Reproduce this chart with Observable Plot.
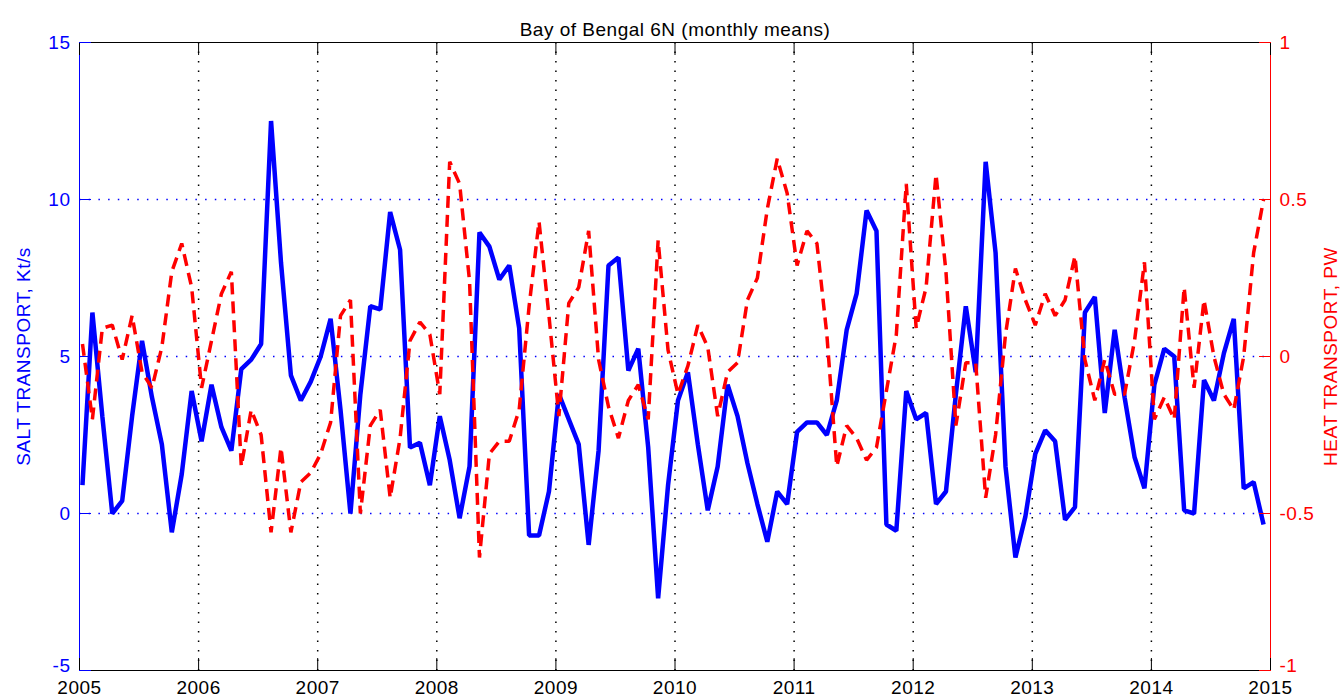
<!DOCTYPE html>
<html>
<head>
<meta charset="utf-8">
<script src="https://cdn.jsdelivr.net/npm/d3@7"></script>
<script src="https://cdn.jsdelivr.net/npm/@observablehq/plot@0.6"></script>
<style>
  html, body { margin: 0; padding: 0; background: #fff; overflow: hidden; }
</style>
</head>
<body>
<div id="chart"></div>
<script>
const title = "Bay of Bengal 6N (monthly means)";
const leftLabel = "SALT TRANSPORT, Kt/s";
const rightLabel = "HEAT TRANSPORT, PW";
const years = [2005, 2006, 2007, 2008, 2009, 2010, 2011, 2012, 2013, 2014, 2015];
const gridYears = [2006, 2007, 2008, 2009, 2010, 2011, 2012, 2013, 2014];
const saltTicks = [-5, 0, 5, 10, 15];
const saltGrid = [0, 5, 10];
const heatTicks = [-1, -0.5, 0, 0.5, 1];

// Salt transport (Kt/s), monthly, Jan 2005 .. Dec 2014
const salt = [
  0.9, 6.4, 3.1, 0.0, 0.4, 3.1, 5.5, 3.7, 2.2, -0.6, 1.25, 3.9,
  2.3, 4.1, 2.75, 2.0, 4.6, 4.9, 5.4, 12.5, 8.0, 4.4, 3.6, 4.2,
  5.0, 6.2, 3.3, 0.0, 3.8, 6.6, 6.5, 9.6, 8.4, 2.1, 2.25, 0.9,
  3.1, 1.7, -0.15, 1.5, 8.95, 8.5, 7.45, 7.9, 5.9, -0.7, -0.7, 0.7,
  3.8, 3.0, 2.2, -1.0, 2.0, 7.9, 8.15, 4.55, 5.25, 2.1, -2.7, 0.9,
  3.6, 4.5, 2.2, 0.1, 1.5, 4.1, 3.1, 1.6, 0.3, -0.9, 0.7, 0.3,
  2.6, 2.9, 2.9, 2.5, 3.6, 5.85, 7.0, 9.65, 9.0, -0.35, -0.55, 3.9,
  3.0, 3.2, 0.3, 0.7, 3.8, 6.6, 4.5, 11.2, 8.3, 1.5, -1.4, -0.1,
  1.9, 2.65, 2.3, -0.2, 0.2, 6.4, 6.9, 3.2, 5.85, 3.7, 1.8, 0.8,
  4.1, 5.25, 5.0, 0.1, 0.0, 4.25, 3.6, 5.1, 6.2, 0.8, 1.0, -0.35
];

// Heat transport (PW), monthly, Jan 2005 .. Dec 2014
const heat = [
  0.04, -0.2, 0.09, 0.1, -0.01, 0.13, -0.05, -0.1, 0.03, 0.27, 0.36, 0.22,
  -0.1, 0.05, 0.2, 0.27, -0.35, -0.17, -0.25, -0.56, -0.29, -0.56, -0.4, -0.37,
  -0.31, -0.21, 0.13, 0.18, -0.5, -0.22, -0.17, -0.45, -0.26, 0.05, 0.11, 0.07,
  -0.12, 0.62, 0.55, 0.24, -0.64, -0.31, -0.27, -0.27, -0.17, 0.16, 0.43, 0.13,
  -0.19, 0.17, 0.22, 0.40, -0.01, -0.16, -0.26, -0.14, -0.09, -0.2, 0.37, 0.02,
  -0.12, -0.03, 0.1, 0.03, -0.19, -0.05, -0.02, 0.18, 0.25, 0.47, 0.63, 0.52,
  0.29, 0.4, 0.36, 0.07, -0.35, -0.22, -0.26, -0.33, -0.29, -0.11, 0.07, 0.55,
  0.09, 0.22, 0.58, 0.27, -0.22, -0.02, -0.02, -0.45, -0.25, 0.07, 0.28, 0.18,
  0.1, 0.2, 0.13, 0.18, 0.32, -0.01, -0.14, -0.01, -0.12, -0.12, 0.05, 0.3,
  -0.2, -0.13, -0.2, 0.22, -0.1, 0.18, 0.0, -0.12, -0.17, 0.0, 0.33, 0.5
];

const startYear = 2005;
// heat axis (-1..1) is mapped onto the salt axis (-5..15)
const heatToSalt = h => 5 + 10 * h;
const heatTickPos = heatTicks.map(heatToSalt);
const saltTicksUpper = saltTicks.slice(1);
const heatTickPosUpper = heatTickPos.slice(1);

const rows = salt.map((s, i) => ({
  t: startYear + (i + 0.3) / 12,
  salt: s,
  heat: heat[i]
}));

const noText = () => "";
const heatFmt = s => String(Math.round((s - 5) / 10 * 10) / 10);

const chart = Plot.plot({
  width: 1344,
  height: 699,
  marginLeft: 79,
  marginRight: 74,
  marginTop: 42,
  marginBottom: 29,
  x: {domain: [2005, 2015], axis: null},
  y: {domain: [-5, 15], axis: null},
  style: {
    fontFamily: "'Liberation Sans', Arial, sans-serif",
    fontSize: "19px",
    background: "white",
    color: "black",
    letterSpacing: "0.5px"
  },
  marks: [
    // grid
    Plot.ruleX(gridYears, {stroke: "black", strokeWidth: 1.5, strokeDasharray: "1.5,8"}),
    Plot.ruleY(saltGrid, {stroke: "blue", strokeWidth: 1.5, strokeDasharray: "1.5,8.2"}),
    // data
    Plot.line(rows, {x: "t", y: "salt", stroke: "blue", strokeWidth: 4.5, strokeLinejoin: "miter", strokeLinecap: "butt"}),
    Plot.line(rows, {x: "t", y: d => heatToSalt(d.heat), stroke: "red", strokeWidth: 3.5, strokeDasharray: "12,7", strokeLinecap: "butt", strokeLinejoin: "miter"}),
    // frame
    Plot.ruleY([-5, 15], {stroke: "black", strokeWidth: 1}),
    Plot.ruleX([2005], {stroke: "blue", strokeWidth: 1}),
    Plot.ruleX([2015], {stroke: "red", strokeWidth: 1}),
    // x ticks (inward) and labels
    Plot.axisX({anchor: "bottom", ticks: years, tickSize: -12, tickFormat: noText, label: null, stroke: "black"}),
    Plot.axisX({anchor: "top", ticks: years, tickSize: -12, tickFormat: noText, label: null, stroke: "black"}),
    Plot.axisX({anchor: "bottom", ticks: years, tickSize: 0, tickPadding: 10, tickFormat: d => String(d), label: null, fill: "black"}),
    // left axis
    Plot.axisY({anchor: "left", ticks: saltTicks, tickSize: -12, tickFormat: noText, label: null, stroke: "blue"}),
    Plot.axisY({anchor: "left", ticks: saltTicksUpper, tickSize: 0, tickPadding: 9, tickFormat: d => String(d), label: null, fill: "blue"}),
    Plot.axisY({anchor: "left", ticks: [saltTicks[0]], tickSize: 0, tickPadding: 9, dy: -5, tickFormat: d => String(d), label: null, fill: "blue"}),
    // right axis
    Plot.axisY({anchor: "right", ticks: heatTickPos, tickSize: -12, tickFormat: noText, label: null, stroke: "red"}),
    Plot.axisY({anchor: "right", ticks: heatTickPosUpper, tickSize: 0, tickPadding: 9, tickFormat: heatFmt, label: null, fill: "red"}),
    Plot.axisY({anchor: "right", ticks: [heatTickPos[0]], tickSize: 0, tickPadding: 9, dy: -5, tickFormat: heatFmt, label: null, fill: "red"}),
    // labels
    Plot.text([leftLabel], {text: d => d, frameAnchor: "left", textAnchor: "middle", dx: -56, rotate: -90, fill: "blue"}),
    Plot.text([rightLabel], {text: d => d, frameAnchor: "right", textAnchor: "middle", dx: 60, rotate: -90, fill: "red"}),
    Plot.text([title], {text: d => d, frameAnchor: "top", dy: -20, fill: "black"})
  ]
});

document.getElementById("chart").appendChild(chart);
</script>
</body>
</html>
